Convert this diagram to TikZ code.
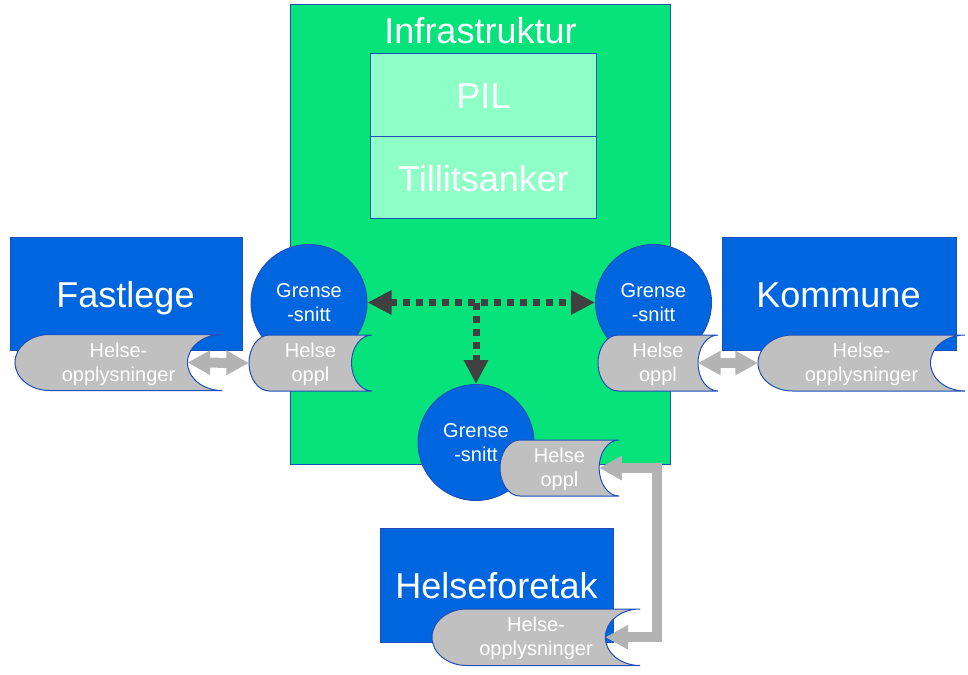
\documentclass[tikz,border=0pt]{standalone}
\usepackage{fontspec}
\setmainfont{Liberation Sans}
\usetikzlibrary{arrows.meta,calc}
\definecolor{infgreen}{HTML}{05E37A}
\definecolor{mint}{HTML}{8FFFC8}
\definecolor{boxblue}{HTML}{0066E0}
\definecolor{edgeblue}{HTML}{1F4FB8}
\definecolor{scrollgrey}{HTML}{C0C0C0}
\definecolor{arrowgrey}{HTML}{B3B3B3}
\definecolor{darkarrow}{HTML}{404040}
\tikzset{
  bigtext/.style={text=white, font=\fontsize{27}{31}\selectfont, anchor=base, inner sep=0pt},
  smalltext/.style={text=white, font=\fontsize{15}{18}\selectfont, align=center, inner sep=0pt},
  block/.style={draw=edgeblue, line width=0.75pt},
  iface/.style={circle, draw=edgeblue, fill=boxblue, line width=0.75pt, minimum size=87pt, inner sep=0pt,
    text=white, font=\fontsize{15}{18}\selectfont, align=center},
  storedfill/.style={draw=edgeblue, fill=scrollgrey, line width=0.75pt},
  greyarrow/.style={draw=arrowgrey, line width=7.5pt},
  greytips/.style={{Triangle[length=17pt,width=17.25pt]}-{Triangle[length=17pt,width=17.25pt]}},
  dotarrow/.style={draw=darkarrow, line width=5.25pt, dash pattern=on 5.25pt off 4.5pt},
  darktips/.style={{Triangle[length=18pt,width=17.25pt]}-{Triangle[length=18pt,width=17.25pt]}},
  darktip/.style={-{Triangle[length=18pt,width=17.25pt]}},
}
\newcommand\storedshape[6]{%
  \pgfmathsetmacro\stw{(#4-#2)/6}%
  \pgfmathsetmacro\strx{(#4-#2)/6*0.75}%
  \pgfmathsetmacro\stry{(#5-#3)/2*0.75}%
  \draw[storedfill] (#2+\stw,#3) -- (#4,#3)
    arc[start angle=90,end angle=270,x radius=\strx pt,y radius=\stry pt]
    -- (#2+\stw,#5)
    arc[start angle=270,end angle=90,x radius=\strx pt,y radius=\stry pt] -- cycle;
  \coordinate (#1-in) at (#4-\stw,{(#3+#5)/2});
  \coordinate (#1-out) at (#2,{(#3+#5)/2});
  \node[smalltext] (#1) at ({(#2+#4)/2},{(#3+#5)/2+1.5}) {#6};
}
\begin{document}
\begin{tikzpicture}[x=0.75pt,y=-0.75pt]
\useasboundingbox (0,0) rectangle (968,675);
% infrastructure
\path[block, fill=infgreen] (290.5,4.5) rectangle (670,464);
\node[bigtext] (infratitle) at (480.5,43) {Infrastruktur};
\path[block, fill=mint] (370.5,53.5) rectangle (596.5,136);
\path[block, fill=mint] (370.5,136) rectangle (596.5,218.5);
\node[bigtext] (pil) at (483.5,108) {PIL};
\node[bigtext] (tillit) at (483.5,191) {Tillitsanker};
% blue actors
\path[block, fill=boxblue] (10,237) rectangle (242,350.5);
\node[bigtext] (fastlege) at (125.5,307) {Fastlege};
\path[block, fill=boxblue] (722,237) rectangle (956,350.5);
\node[bigtext] (kommune) at (838.5,307) {Kommune};
\path[block, fill=boxblue] (380,528) rectangle (613.5,642.5);
\node[bigtext] (helseforetak) at (496.5,598) {Helseforetak};
% interfaces
\node[iface] (c1) at (309,302.5) {Grense\\-snitt};
\node[iface] (c2) at (653.5,302.5) {Grense\\-snitt};
\node[iface] (c3) at (476,442.5) {Grense\\-snitt};
% stored data
\storedshape{s1}{15}{334.5}{222}{390.5}{Helse-\\opplysninger}
\storedshape{s2}{249}{335}{372}{391}{Helse\\oppl}
\storedshape{s3}{598}{335}{718}{391}{Helse\\oppl}
\storedshape{s4}{758}{335}{965}{391}{Helse-\\opplysninger}
\storedshape{s5}{500}{440}{619}{496}{Helse\\oppl}
\storedshape{s6}{432}{609}{640}{665.5}{Helse-\\opplysninger}
% grey arrows
\draw[greyarrow, greytips] (s1-in) -- (s2-out);
\draw[greyarrow, greytips] (s3-in) -- (s4-out);
\coordinate (bend) at (657,468);
\draw[greyarrow, greytips] (s5-in) -- (bend) |- (s6-in);
% dotted arrows
\draw[dotarrow, darktips] (c1) -- (c2);
\draw[dotarrow, darktip] (c3 |- c1) -- (c3);
\end{tikzpicture}
\end{document}
